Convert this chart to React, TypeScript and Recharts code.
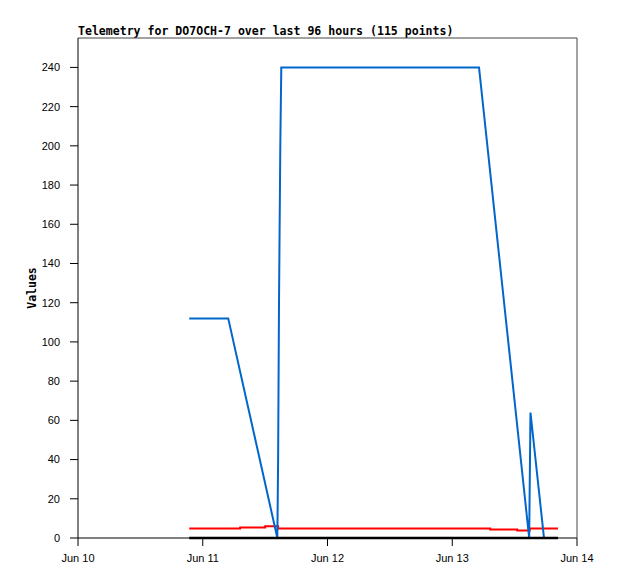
import React from 'react';
import { LineChart, Line, XAxis, YAxis } from 'recharts';

const title = 'Telemetry for DO7OCH-7 over last 96 hours (115 points)';
const yAxisTitle = 'Values';

const xTickHours = [0, 24, 48, 72, 96];
const xTickLabels = ['Jun 10', 'Jun 11', 'Jun 12', 'Jun 13', 'Jun 14'];
const yTicks = [0, 20, 40, 60, 80, 100, 120, 140, 160, 180, 200, 220, 240];

// hours since Jun 10 00:00
const blueHours = [21.4, 28.9, 38.35, 38.5, 38.67, 38.92, 39.11, 77.15, 86.8, 87.05, 89.65];
const blueValues = [112, 112, 0, 40, 120, 200, 240, 240, 0, 64, 0];

const redHours = [21.4, 31.2, 36.0, 38.5, 79.3, 84.5, 86.9, 92.35];
const redValues = [4.8, 5.3, 6.0, 4.8, 4.3, 3.8, 4.8, 4.8];

const blackHours = [21.4, 92.35];
const blackValues = [0, 0];

const zip = (hs: number[], vs: number[]) => hs.map((t, i) => ({ t, v: vs[i] }));

const blueData = zip(blueHours, blueValues);
const redData = zip(redHours, redValues);
const blackData = zip(blackHours, blackValues);

const tickFont = { fontFamily: '"Liberation Sans", Arial, sans-serif', fontSize: 11, fill: '#000' };

export default function App() {
  return (
    <div style={{ position: 'absolute', left: 0, top: 0, width: 618, height: 579, background: '#fff' }}>
      <div
        style={{
          position: 'absolute',
          left: 78,
          top: 25,
          fontFamily: '"DejaVu Sans Mono", "Liberation Mono", monospace',
          fontWeight: 'bold',
          fontSize: 11.55,
          lineHeight: '13px',
          color: '#000',
          whiteSpace: 'nowrap',
        }}
      >
        {title}
      </div>
      <LineChart width={618} height={579} margin={{ top: 30, right: 33, bottom: 0, left: 0 }}>
        <XAxis
          xAxisId="b"
          dataKey="t"
          type="number"
          domain={[0, 96]}
          ticks={xTickHours}
          interval={0}
          tickFormatter={(h: number) => xTickLabels[xTickHours.indexOf(h)]}
          height={41}
          tickSize={8}
          tickMargin={8}
          tick={tickFont}
          axisLine={{ stroke: '#000' }}
          tickLine={{ stroke: '#000' }}
        />
        <XAxis
          xAxisId="t"
          orientation="top"
          dataKey="t"
          type="number"
          domain={[0, 96]}
          height={8}
          tick={false}
          tickLine={false}
          axisLine={{ stroke: '#444' }}
        />
        <YAxis
          yAxisId="l"
          type="number"
          domain={[0, 255]}
          ticks={yTicks}
          interval={0}
          width={78}
          tickSize={8}
          tickMargin={10}
          tick={tickFont}
          axisLine={{ stroke: '#000' }}
          tickLine={{ stroke: '#000' }}
          label={{
            value: yAxisTitle,
            angle: -90,
            position: 'center',
            dx: -7,
            style: {
              fontFamily: '"DejaVu Sans Mono", "Liberation Mono", monospace',
              fontWeight: 'bold',
              fontSize: 11.5,
              fill: '#000',
            },
          }}
        />
        <YAxis
          yAxisId="r"
          orientation="right"
          type="number"
          domain={[0, 255]}
          width={8}
          tick={false}
          tickLine={false}
          axisLine={{ stroke: '#444' }}
        />
        <Line
          xAxisId="b"
          yAxisId="l"
          data={redData}
          dataKey="v"
          type="stepAfter"
          stroke="#ff0000"
          strokeWidth={2}
          dot={false}
          isAnimationActive={false}
        />
        <Line
          xAxisId="b"
          yAxisId="l"
          data={blueData}
          dataKey="v"
          type="linear"
          stroke="#0066cc"
          strokeWidth={2}
          dot={false}
          isAnimationActive={false}
        />
        <Line
          xAxisId="b"
          yAxisId="l"
          data={blackData}
          dataKey="v"
          type="linear"
          stroke="#000"
          strokeWidth={2.5}
          dot={false}
          isAnimationActive={false}
        />
      </LineChart>
    </div>
  );
}
